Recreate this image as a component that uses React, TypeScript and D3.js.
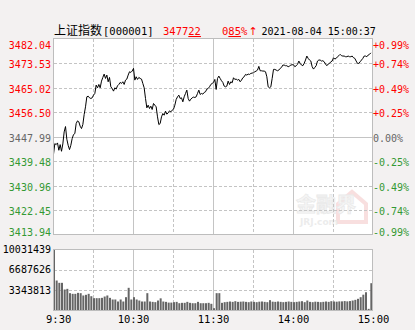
import React from 'react';
import * as d3 from 'd3';

// ---------- data ----------
const prevClose = 3447.99;
const prices: number[] = [
  3441.88, 3445.60, 3445.25, 3445.84, 3443.28, 3445.25, 3442.93, 3445.49, 3449.68, 3451.54,
  3447.12, 3445.02, 3443.51, 3445.02, 3447.35, 3448.75, 3449.10, 3452.59, 3453.52, 3453.17,
  3451.66, 3450.84, 3452.24, 3455.73, 3458.41, 3461.90, 3462.13, 3461.55, 3461.32, 3461.55,
  3462.48, 3463.07, 3465.98, 3465.04, 3466.21, 3465.04, 3467.37, 3468.65, 3469.82, 3468.30,
  3469.47, 3467.14, 3468.65, 3465.39, 3464.81, 3463.88, 3465.04, 3464.58, 3465.74, 3466.21,
  3466.91, 3466.56, 3467.14, 3466.21, 3467.72, 3468.07, 3469.47, 3470.63, 3470.40, 3470.87,
  3471.80, 3467.72, 3468.89, 3467.96, 3468.65, 3468.30, 3468.07, 3466.56, 3465.04, 3461.32,
  3458.06, 3458.99, 3457.83, 3458.64, 3457.48, 3459.57, 3458.99, 3458.41, 3454.92, 3452.24,
  3452.59, 3454.92, 3456.08, 3455.50, 3456.90, 3455.85, 3456.31, 3457.01, 3456.66, 3457.25,
  3457.59, 3458.99, 3460.97, 3461.90, 3462.48, 3461.32, 3461.55, 3460.16, 3461.90, 3463.07,
  3464.23, 3461.32, 3460.39, 3461.09, 3461.55, 3461.79, 3461.67, 3461.90, 3463.07, 3464.23,
  3462.72, 3463.07, 3462.83, 3463.42, 3463.65, 3464.58, 3464.81, 3465.39, 3466.21, 3466.56,
  3466.91, 3467.96, 3464.46, 3468.30, 3469.12, 3468.30, 3467.49, 3466.91, 3465.63, 3465.39,
  3465.63, 3467.37, 3466.21, 3467.14, 3466.79, 3468.54, 3467.96, 3468.07, 3467.72, 3467.96,
  3467.14, 3467.72, 3468.54, 3468.89, 3469.70, 3469.47, 3469.82, 3469.70, 3470.05, 3470.17,
  3470.28, 3470.63, 3470.87, 3471.21, 3472.50, 3470.98, 3470.98, 3470.87, 3470.87, 3470.63,
  3468.89, 3465.39, 3465.04, 3465.39, 3468.30, 3471.45, 3471.45, 3471.21, 3470.98, 3471.21,
  3471.80, 3472.15, 3472.96, 3472.96, 3472.73, 3472.73, 3472.38, 3472.61, 3472.96, 3473.08,
  3473.08, 3472.38, 3472.73, 3473.19, 3474.36, 3473.54, 3472.96, 3472.73, 3473.54, 3474.71,
  3476.10, 3475.29, 3474.71, 3474.36, 3472.38, 3471.56, 3472.15, 3472.73, 3474.36, 3474.71,
  3474.71, 3474.36, 3474.47, 3474.12, 3473.31, 3472.73, 3473.31, 3473.54, 3474.12, 3474.36,
  3475.52, 3475.06, 3475.29, 3475.87, 3476.22, 3476.69, 3476.22, 3476.10, 3476.10, 3475.87,
  3475.87, 3476.10, 3475.87, 3475.87, 3476.10, 3475.52, 3475.29, 3474.36, 3473.54, 3473.54,
  3474.12, 3474.71, 3475.29, 3476.10, 3476.10, 3475.87, 3476.45, 3476.69, 3477.22,
];
// one bar per two minutes
const volumes: number[] = [
  10031439, 4930000, 4550000, 4550000, 3450000, 3560000, 2850000, 2740000, 2740000, 2900000,
  2850000, 2470000, 2580000, 2740000, 2350000, 2030000, 2030000, 2030000, 2080000, 2300000,
  2470000, 2080000, 1810000, 1810000, 1480000, 1810000, 1480000, 2190000, 3730000, 1810000,
  2190000, 1810000, 1640000, 1480000, 1480000, 2850000, 1480000, 1420000, 1370000, 1640000,
  2000000, 1480000, 1420000, 1300000, 1300000, 1370000, 1420000, 1200000, 1260000, 1260000,
  1420000, 1260000, 1200000, 1200000, 1420000, 1200000, 1200000, 1200000, 1260000, 1100000,
  380000, 2850000, 2850000, 1260000, 1370000, 1420000, 1480000, 1420000, 1530000, 1420000,
  1450000, 1480000, 1420000, 1370000, 1480000, 1420000, 1370000, 1450000, 1480000, 1420000,
  1370000, 1700000, 1450000, 1420000, 1480000, 1420000, 1370000, 1420000, 1480000, 1420000,
  1370000, 1420000, 1480000, 1530000, 1370000, 1640000, 1420000, 1370000, 1450000, 1420000,
  1370000, 1420000, 1480000, 1420000, 1530000, 1480000, 1450000, 1500000, 1500000, 1550000,
  1500000, 1550000, 1640000, 1750000, 1920000, 2190000, 2600000, 3000000, 270000, 4490000,
];
const priceTicks = ['3482.04', '3473.53', '3465.02', '3456.50', '3447.99', '3439.48', '3430.96', '3422.45', '3413.94'];
const pctTicks = ['+0.99%', '+0.74%', '+0.49%', '+0.25%', '0.00%', '-0.25%', '-0.49%', '-0.74%', '-0.99%'];
const volTicks = [10031439, 6687626, 3343813];
const timeLabels = ['9:30', '10:30', '11:30', '14:00', '15:00'];
const timeMinutes = [0, 60, 120, 180, 240];
const gridMinutes = [30, 60, 90, 120, 150, 180, 210];

// ---------- layout ----------
const W = 415, H = 330;
const L = 53.5, R = 372.5;
const PT = 38.5, PB = 234.5;
const VT = 249.5, VB = 310.5;
const RED = '#ff0000', GREEN = '#339933', GRAY = '#666666';
const MONO = "'DejaVu Sans Mono', monospace";
const GRID = '#c4c4c4';

export default function App() {
  const x = d3.scaleLinear().domain([0, 240]).range([L, L + 320]);
  const y = d3.scaleLinear().domain([3413.94, 3482.04]).range([PB, PT + 0.5]);
  const yv = d3.scaleLinear().domain([0, 10031439]).range([VB, VT]);
  const line = d3.line<number>().x((_, i) => x(i)).y((d) => y(d));

  const colorFor = (i: number) => (i < 4 ? RED : i === 4 ? GRAY : GREEN);
  const labelY = (i: number, v: number) => {
    const ly = y(v);
    if (i === 0) return ly + 10;
    if (i === priceTicks.length - 1) return ly + 1;
    return ly + 5;
  };

  return (
    <svg width={W} height={H} style={{ position: 'absolute', left: 0, top: 0 }}>
      <rect x={0} y={0} width={W} height={H} fill="#f3f1f1" />

      {/* title row */}
      <text x={54} y={35} fontSize={12} fontFamily="'Noto Sans CJK SC', sans-serif" fill="#000">上证指数</text>
      <text x={103} y={35} fontSize={10.5} fontFamily={MONO} fill="#000">[000001]</text>
      <text x={163} y={35} fontSize={10.5} fontFamily={MONO} fill={RED}>
        <tspan>3477</tspan>
        <tspan textDecoration="underline">22</tspan>
      </text>
      <text x={222} y={35} fontSize={10.5} fontFamily={MONO} fill={RED}>
        <tspan>0</tspan>
        <tspan textDecoration="underline">85</tspan>
        <tspan>%</tspan>
      </text>
      <text x={248.5} y={35} fontSize={11} fontFamily="'DejaVu Sans', sans-serif" fill={RED}>↑</text>
      <text x={261.5} y={35} fontSize={10} fontFamily={MONO} fill="#000">2021-08-04 15:00:37</text>

      {/* price panel */}
      <rect x={L} y={PT} width={R - L} height={PB - PT} fill="#fff" />
      {/* watermark */}
      <g opacity={0.55}>
        <path d="M338,222 L338,204 L352,192 L366,204 L366,222 Z" fill="none" stroke="#f4c6c6" strokeWidth={4} />
        <text x={296} y={212} fontSize={20} fontWeight="bold" fontFamily="'Noto Sans CJK SC', sans-serif" fill="#eeeeee" stroke="#d9d9d9" strokeWidth={0.8}>金融界</text>
        <text x={300} y={225} fontSize={9} fontWeight="bold" fontFamily="'DejaVu Sans', sans-serif" fill="#dddddd">JRJ.com</text>
      </g>
      {priceTicks.map((t, i) => {
        const v = +t;
        if (i === 0 || i === priceTicks.length - 1) return null;
        const yy = Math.round(y(v)) + 0.5;
        return (
          <line key={'ph' + i} x1={L} x2={R} y1={yy} y2={yy} stroke={GRID}
            strokeDasharray={i === 4 ? undefined : '3,2'} shapeRendering="crispEdges" />
        );
      })}
      {gridMinutes.map((m) => {
        const xx = Math.round(x(m) - 0.5) + 0.5;
        const solid = m % 60 === 0;
        return (
          <g key={'v' + m}>
            <line x1={xx} x2={xx} y1={PT} y2={PB} stroke={GRID} strokeDasharray={solid ? undefined : '3,2'} shapeRendering="crispEdges" />
            <line x1={xx} x2={xx} y1={VT} y2={VB} stroke={GRID} strokeDasharray={solid ? undefined : '3,2'} shapeRendering="crispEdges" />
          </g>
        );
      })}
      <path d={line(prices) || ''} fill="none" stroke="#000" strokeWidth={1} />
      <rect x={L} y={PT} width={R - L} height={PB - PT} fill="none" stroke="#bdbdbd" shapeRendering="crispEdges" />

      {priceTicks.map((t, i) => (
        <text key={'pl' + i} x={51} y={labelY(i, +t)} textAnchor="end" fontSize={10} fontFamily={MONO} fill={colorFor(i)}>{t}</text>
      ))}
      {pctTicks.map((t, i) => (
        <text key={'pr' + i} x={373} y={labelY(i, +priceTicks[i])} fontSize={10} fontFamily={MONO} fill={colorFor(i)}>{t}</text>
      ))}

      {/* volume panel */}
      <rect x={L} y={VT} width={R - L} height={VB - VT} fill="#fff" />
      {volTicks.slice(1).map((v) => {
        const yy = Math.round(yv(v)) + 0.5;
        return <line key={'vh' + v} x1={L} x2={R} y1={yy} y2={yy} stroke={GRID} strokeDasharray="3,2" shapeRendering="crispEdges" />;
      })}
      {gridMinutes.map((m) => {
        const xx = Math.round(x(m) - 0.5) + 0.5;
        const solid = m % 60 === 0;
        return <line key={'vv' + m} x1={xx} x2={xx} y1={VT} y2={VB} stroke={GRID} strokeDasharray={solid ? undefined : '3,2'} shapeRendering="crispEdges" />;
      })}
      <g clipPath="url(#volclip)">
        {volumes.map((v, i) => (
          <rect key={'b' + i} x={x(i * 2) - 0.5} y={yv(v)} width={2} height={VB - yv(v)} fill="#666666" />
        ))}
      </g>
      <defs>
        <clipPath id="volclip">
          <rect x={L + 0.5} y={VT} width={R - L - 1} height={VB - VT} />
        </clipPath>
      </defs>
      <rect x={L} y={VT} width={R - L} height={VB - VT} fill="none" stroke="#bdbdbd" shapeRendering="crispEdges" />
      {volTicks.map((v) => (
        <text key={'vl' + v} x={51} y={yv(v) + 3.5} textAnchor="end" fontSize={10} fontFamily={MONO} fill="#000">{v}</text>
      ))}

      {/* time axis */}
      {timeLabels.map((t, i) => (
        <text key={'t' + i} x={i === 0 ? 46 : x(timeMinutes[i])} y={323} textAnchor={i === 0 ? 'start' : 'middle'}
          fontSize={10.5} fontFamily={MONO} fill="#000">{t}</text>
      ))}
    </svg>
  );
}
